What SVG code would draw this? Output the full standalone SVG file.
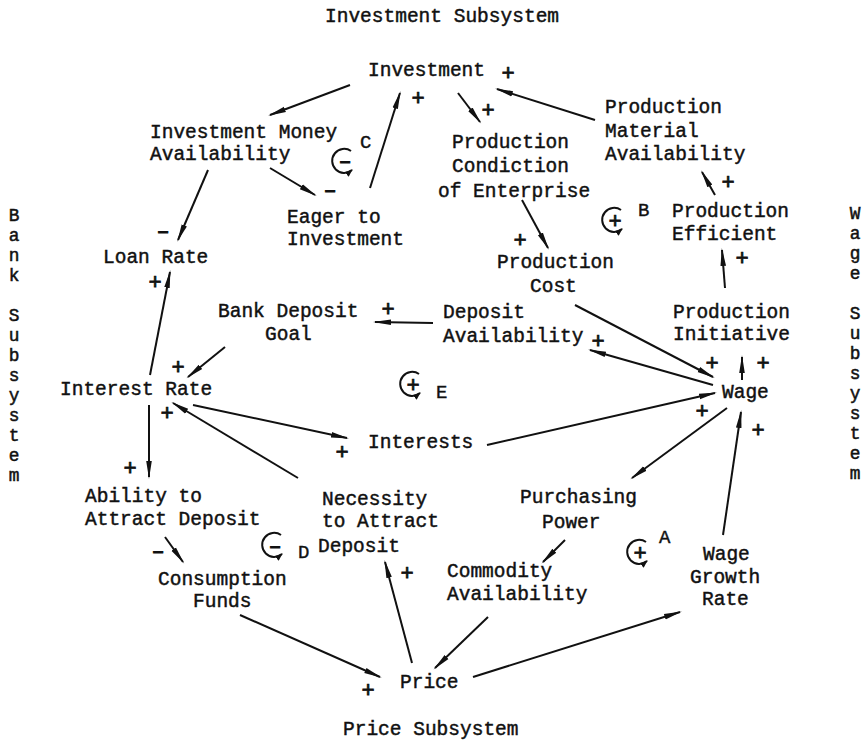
<svg xmlns="http://www.w3.org/2000/svg" width="866" height="741" viewBox="0 0 866 741">
<style>
text{font-family:"Liberation Mono","DejaVu Sans Mono",monospace;font-size:19.5px;fill:#111;stroke:#111;stroke-width:0.45}
.v{font-size:17.8px;stroke-width:0.5;writing-mode:vertical-rl;text-orientation:upright}
.s{font-size:22px;stroke-width:0.8}
.lp{font-size:19px;stroke-width:0.4}
.c line{stroke:#111;stroke-width:2;fill:none;marker-end:url(#ah)}
.loop path{stroke:#111;stroke-width:2;fill:none;marker-end:url(#lh)}
</style>
<defs>
<marker id="ah" markerUnits="userSpaceOnUse" markerWidth="20" markerHeight="10" refX="16" refY="5" orient="auto"><path d="M0,2.2 L18,5 L0,7.8 Z" fill="#111"/></marker>
<marker id="lh" markerUnits="userSpaceOnUse" markerWidth="10" markerHeight="8" refX="7" refY="4" orient="auto"><path d="M0,1 L8,4 L0,7 Z" fill="#111"/></marker>
</defs>
<rect width="866" height="741" fill="#fff"/>

<g id="titles">
<text x="325" y="22">Investment Subsystem</text>
<text x="343" y="735">Price Subsystem</text>
<text class="v" x="14" y="206">Bank Subsystem</text>
<text class="v" x="855" y="204">Wage Subsystem</text>
</g>

<g id="investment"><text x="368" y="76">Investment</text></g>
<g id="investment-money-availability"><text x="150" y="138">Investment Money</text><text x="150" y="160">Availability</text></g>
<g id="eager-to-investment"><text x="287" y="223">Eager to</text><text x="287" y="245">Investment</text></g>
<g id="production-condiction"><text x="452" y="148">Production</text><text x="452" y="172">Condiction</text><text x="438" y="197">of Enterprise</text></g>
<g id="production-material-availability"><text x="605" y="113">Production</text><text x="605" y="137">Material</text><text x="605" y="160">Availability</text></g>
<g id="production-efficient"><text x="672" y="217">Production</text><text x="672" y="240">Efficient</text></g>
<g id="loan-rate"><text x="103" y="263">Loan Rate</text></g>
<g id="production-cost"><text x="497" y="268">Production</text><text x="530" y="292">Cost</text></g>
<g id="bank-deposit-goal"><text x="218" y="317">Bank Deposit</text><text x="265" y="340">Goal</text></g>
<g id="deposit-availability"><text x="443" y="318">Deposit</text><text x="443" y="342">Availability</text></g>
<g id="production-initiative"><text x="673" y="318">Production</text><text x="673" y="340">Initiative</text></g>
<g id="interest-rate"><text x="60" y="395">Interest Rate</text></g>
<g id="wage"><text x="722" y="398">Wage</text></g>
<g id="interests"><text x="368" y="448">Interests</text></g>
<g id="ability-to-attract-deposit"><text x="85" y="502">Ability to</text><text x="85" y="525">Attract Deposit</text></g>
<g id="necessity-to-attract-deposit"><text x="322" y="505">Necessity</text><text x="322" y="527">to Attract</text><text x="318" y="552">Deposit</text></g>
<g id="purchasing-power"><text x="520" y="503">Purchasing</text><text x="542" y="528">Power</text></g>
<g id="consumption-funds"><text x="158" y="585">Consumption</text><text x="193" y="607">Funds</text></g>
<g id="commodity-availability"><text x="447" y="577">Commodity</text><text x="447" y="600">Availability</text></g>
<g id="wage-growth-rate"><text x="703" y="560">Wage</text><text x="690" y="583">Growth</text><text x="702" y="605">Rate</text></g>
<g id="price"><text x="400" y="688">Price</text></g>

<g id="connectors" class="c">
<line x1="350" y1="85" x2="270" y2="115"/>
<line x1="270" y1="168" x2="315" y2="195"/>
<line x1="370" y1="188" x2="400" y2="93"/>
<line x1="458" y1="93" x2="480" y2="122"/>
<line x1="595" y1="120" x2="497" y2="89"/>
<line x1="715" y1="195" x2="702" y2="172"/>
<line x1="208" y1="170" x2="178" y2="240"/>
<line x1="522" y1="200" x2="548" y2="248"/>
<line x1="725" y1="288" x2="722" y2="250"/>
<line x1="433" y1="323" x2="375" y2="322"/>
<line x1="150" y1="375" x2="170" y2="272"/>
<line x1="225" y1="347" x2="188" y2="377"/>
<line x1="575" y1="305" x2="713" y2="377"/>
<line x1="713" y1="385" x2="590" y2="350"/>
<line x1="742" y1="380" x2="742" y2="357"/>
<line x1="487" y1="445" x2="715" y2="393"/>
<line x1="727" y1="408" x2="632" y2="478"/>
<line x1="723" y1="535" x2="741" y2="412"/>
<line x1="565" y1="540" x2="543" y2="562"/>
<line x1="149" y1="405" x2="149" y2="477"/>
<line x1="298" y1="478" x2="173" y2="403"/>
<line x1="193" y1="405" x2="347" y2="438"/>
<line x1="165" y1="537" x2="183" y2="562"/>
<line x1="412" y1="663" x2="385" y2="562"/>
<line x1="240" y1="615" x2="380" y2="677"/>
<line x1="488" y1="617" x2="435" y2="668"/>
<line x1="473" y1="677" x2="680" y2="612"/>
</g>

<g id="polarities" text-anchor="middle">
<text class="s" x="508" y="80">+</text>
<text class="s" x="418" y="105">+</text>
<text class="s" x="488" y="117">+</text>
<text class="s" x="330" y="197">–</text>
<text class="s" x="728" y="189">+</text>
<text class="s" x="163" y="238">–</text>
<text class="s" x="520" y="247">+</text>
<text class="s" x="742" y="265">+</text>
<text class="s" x="155" y="289">+</text>
<text class="s" x="388" y="316">+</text>
<text class="s" x="598" y="348">+</text>
<text class="s" x="178" y="374">+</text>
<text class="s" x="712" y="370">+</text>
<text class="s" x="763" y="370">+</text>
<text class="s" x="702" y="418">+</text>
<text class="s" x="758" y="437">+</text>
<text class="s" x="167" y="420">+</text>
<text class="s" x="130" y="475">+</text>
<text class="s" x="342" y="459">+</text>
<text class="s" x="158" y="558">–</text>
<text class="s" x="407" y="580">+</text>
<text class="s" x="368" y="697">+</text>
</g>

<g id="loops" class="loop">
<path d="M351,151 A12,12 0 1 0 352,170"/><text class="s" x="345" y="168" text-anchor="middle">–</text><text class="lp" x="360" y="148">C</text>
<path d="M621,210 A12,12 0 1 0 622,229"/><text class="s" x="615" y="228" text-anchor="middle">+</text><text class="lp" x="638" y="216">B</text>
<path d="M419,374 A12,12 0 1 0 420,393"/><text class="s" x="413" y="392" text-anchor="middle">+</text><text class="lp" x="436" y="398">E</text>
<path d="M281,535 A12,12 0 1 0 282,554"/><text class="s" x="275" y="553" text-anchor="middle">–</text><text class="lp" x="298" y="558">D</text>
<path d="M646,542 A12,12 0 1 0 647,561"/><text class="s" x="640" y="560" text-anchor="middle">+</text><text class="lp" x="659" y="543">A</text>
</g>
</svg>
